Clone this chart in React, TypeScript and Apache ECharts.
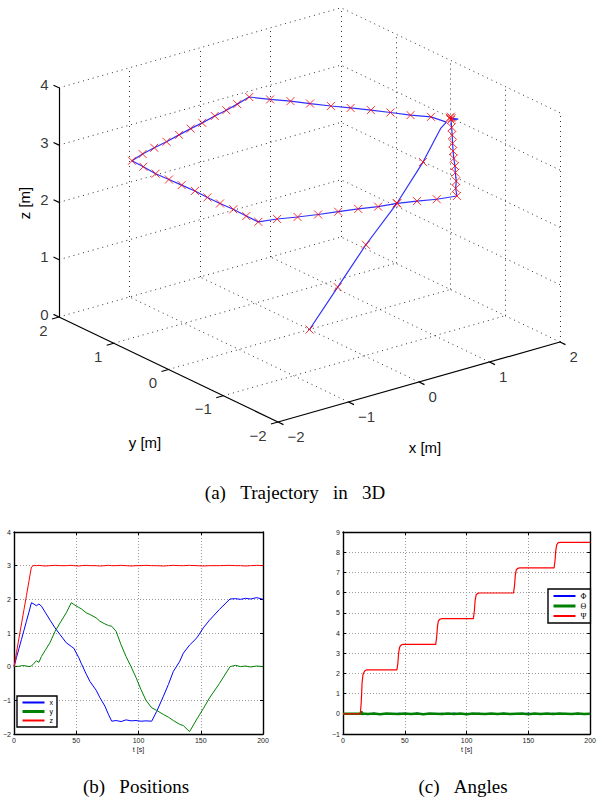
import React, { useEffect, useRef } from "react";
import * as echarts from "echarts";

// ---------- 3D trajectory (metres), one entry per logged sample ----------
const trajX = [0, 0.4, 0.8, 1.24, 1.61, 1.86, 1.88, 1.84, 1.69, 1.56, 1.43, 1.29, 1.15, 1.01, 0.88, 0.73, 0.59, 0.35, 0.14, -0.07, -0.31, -0.52, -0.74, -0.98, -1.2, -1.42, -1.64, -1.65, -1.67, -1.66, -1.65, -1.64, -1.65, -1.65, -1.64, -1.65, -1.65, -1.43, -1.21, -0.98, -0.75, -0.52, -0.3, -0.07, 0.15, 0.36, 0.6, 0.73, 0.87, 1.02, 1.14, 1.27, 1.4, 1.54, 1.69, 1.83, 1.96, 2.04, 1.99, 2.02, 2.0];
const trajY = [0, 0, 0, 0, 0, 0, -0.08, 0.15, 0.33, 0.53, 0.72, 0.91, 1.09, 1.29, 1.48, 1.66, 1.86, 1.77, 1.7, 1.64, 1.56, 1.5, 1.43, 1.35, 1.29, 1.22, 1.13, 0.91, 0.66, 0.43, 0.21, -0.02, -0.26, -0.49, -0.72, -0.97, -1.19, -1.25, -1.34, -1.42, -1.49, -1.56, -1.64, -1.69, -1.77, -1.86, -1.92, -1.73, -1.56, -1.35, -1.19, -1.0, -0.82, -0.63, -0.43, -0.24, -0.06, -0.09, 0.0, 0.02, -0.02];
const trajZ = [0, 0.6, 1.2, 1.77, 2.36, 2.86, 3, 3, 3, 3, 3, 3, 3, 3, 3, 3, 3, 3, 3, 3, 3, 3, 3, 3, 3, 3, 3, 3, 3, 3, 3, 3, 3, 3, 3, 3, 3, 3, 3, 3, 3, 3, 3, 3, 3, 3, 3, 3, 3, 3, 3, 3, 3, 3, 3, 3, 3, 3, 3, 3, 3];
const trajMark = [1, 1, 1, 1, 1, 0, 0, 1, 1, 1, 1, 1, 1, 1, 1, 1, 1, 1, 1, 1, 1, 1, 1, 1, 1, 1, 1, 1, 1, 1, 1, 1, 1, 1, 1, 1, 1, 1, 1, 1, 1, 1, 1, 1, 1, 1, 1, 1, 1, 1, 1, 1, 1, 1, 1, 1, 1, 0, 1, 1, 1];

const ticks3dX = [-2, -1, 0, 1, 2];
const ticks3dY = [-2, -1, 0, 1, 2];
const ticks3dZ = [0, 1, 2, 3, 4];

// ---------- Positions ----------
const posT = [0, 2, 4, 6, 8, 10, 12, 14, 16, 18, 20, 22, 25, 29, 33, 37, 42, 46, 48, 52, 54, 58, 61, 66, 69, 73, 76, 78.5, 82, 86, 90, 94, 98, 102, 106, 110.6, 114.6, 120, 124, 128, 133, 136, 141, 147, 152, 157, 165, 173.5, 178, 182, 186, 190, 195, 200];
const posX = [0, 0.27, 0.54, 0.81, 1.08, 1.35, 1.62, 1.9, 1.86, 1.81, 1.86, 1.8, 1.62, 1.38, 1.15, 0.95, 0.71, 0.6, 0.55, 0.27, 0.1, -0.22, -0.44, -0.7, -0.92, -1.17, -1.43, -1.62, -1.6, -1.63, -1.58, -1.61, -1.6, -1.62, -1.61, -1.62, -1.33, -0.88, -0.53, -0.14, 0.15, 0.4, 0.64, 0.86, 1.15, 1.38, 1.7, 2.01, 2.02, 2.0, 2.03, 2.01, 2.05, 2.0];
const posY = [0, 0.01, 0.01, 0.03, 0.03, 0.02, 0.0, 0.02, 0.1, 0.17, 0.13, 0.3, 0.48, 0.72, 1.05, 1.3, 1.6, 1.9, 1.85, 1.76, 1.72, 1.6, 1.55, 1.45, 1.35, 1.27, 1.22, 1.2, 1.05, 0.65, 0.3, 0.0, -0.32, -0.68, -1.0, -1.22, -1.3, -1.42, -1.5, -1.6, -1.71, -1.75, -1.93, -1.55, -1.25, -0.93, -0.5, 0.0, 0.04, 0.0, 0.02, -0.01, 0.02, 0.0];
const posZ = [0, 0.42, 0.85, 1.27, 1.69, 2.11, 2.54, 2.96, 3.01, 3.0, 3.01, 3.0, 2.99, 3.0, 3.01, 3.0, 3.0, 3.01, 3.0, 2.99, 3.0, 3.01, 3.0, 3.0, 2.99, 3.0, 3.01, 3.0, 3.0, 3.01, 3.0, 2.99, 3.0, 3.0, 3.01, 3.0, 3.0, 2.99, 3.0, 3.01, 3.0, 3.0, 3.01, 3.0, 2.99, 3.0, 3.0, 3.01, 3.0, 3.0, 2.99, 3.0, 3.01, 3.0];

// ---------- Angles ----------
const psiT = [0, 14, 14.8, 15.4, 16.2, 17.5, 19, 43.6, 44.4, 45, 45.8, 47, 48.5, 75, 75.8, 76.4, 77.2, 78.4, 80, 105.5, 106.3, 106.9, 107.7, 108.9, 110.5, 138, 138.8, 139.4, 140.2, 141.4, 143, 170.8, 171.6, 172.2, 173, 174.2, 175.8, 200];
const psiV = [0, 0, 0.6, 1.5, 1.95, 2.12, 2.17, 2.17, 2.5, 3.0, 3.3, 3.4, 3.44, 3.44, 3.8, 4.3, 4.6, 4.68, 4.71, 4.71, 5.1, 5.6, 5.88, 5.96, 5.98, 5.98, 6.35, 6.85, 7.12, 7.2, 7.22, 7.22, 7.6, 8.1, 8.38, 8.47, 8.49, 8.49];
const angT = [0, 14, 15, 15.5, 16, 20, 25, 30, 35, 40, 45, 50, 55, 60, 65, 70, 75, 80, 85, 90, 95, 100, 105, 110, 115, 120, 125, 130, 135, 140, 145, 150, 155, 160, 165, 170, 175, 180, 185, 190, 195, 200];
const phiV = [0, 0, 0.06, -0.04, 0.03, -0.02, 0.03, -0.03, 0.02, -0.04, 0.03, 0.01, -0.03, 0.04, -0.02, 0.02, -0.03, 0.03, -0.02, 0.04, -0.03, 0.02, -0.02, 0.03, -0.04, 0.02, -0.02, 0.03, -0.03, 0.02, -0.02, 0.04, -0.03, 0.02, -0.02, 0.03, -0.03, 0.02, -0.02, 0.03, -0.02, 0.01];
const thetaV = [0, 0, 0.12, -0.05, 0.02, -0.01, 0.01, -0.02, 0.01, 0.0, -0.01, 0.02, -0.01, 0.01, -0.02, 0.01, 0.0, -0.01, 0.02, -0.01, 0.01, -0.02, 0.01, 0.0, -0.01, 0.02, -0.01, 0.01, -0.01, 0.0, 0.01, -0.02, 0.01, -0.01, 0.02, -0.01, 0.01, 0.0, -0.01, 0.01, -0.01, 0.0];

// ---------- styling / layout ----------
const SANS = "Liberation Sans";
const SERIF = "Liberation Serif";
const fmt = (v: number) => (v < 0 ? "\u2212" + Math.abs(v) : String(v));
const GAP = "\u00A0\u00A0\u00A0";

// oblique view: screen-u (right) and screen-v (up) per data unit
const VIEW = { ux: 70.5, uy: -54.75, vx: 20, vy: 26.25, vz: 57.3 };
const proj = (x: number, y: number, z: number) => [VIEW.ux * x + VIEW.uy * y, VIEW.vx * x + VIEW.vy * y + VIEW.vz * z];

function buildOption(): any {
  const xMin = ticks3dX[0], xMax = ticks3dX[ticks3dX.length - 1];
  const yMin = ticks3dY[0], yMax = ticks3dY[ticks3dY.length - 1];
  const zMin = ticks3dZ[0], zMax = ticks3dZ[ticks3dZ.length - 1];
  const seg = (a: number[], b: number[]) => ({ coords: [proj(a[0], a[1], a[2]), proj(b[0], b[1], b[2])] });

  const gridSegs: any[] = [];
  ticks3dX.forEach((t) => {
    if (t !== xMin) {
      gridSegs.push(seg([t, yMax, zMin], [t, yMax, zMax]));
      gridSegs.push(seg([t, yMin, zMin], [t, yMax, zMin]));
    }
  });
  ticks3dY.forEach((t) => {
    if (t !== yMax) gridSegs.push(seg([xMax, t, zMin], [xMax, t, zMax]));
    if (t !== yMin) gridSegs.push(seg([xMin, t, zMin], [xMax, t, zMin]));
  });
  ticks3dZ.forEach((t) => {
    if (t !== zMin) {
      gridSegs.push(seg([xMin, yMax, t], [xMax, yMax, t]));
      gridSegs.push(seg([xMax, yMin, t], [xMax, yMax, t]));
    }
  });

  const TL = 0.1;
  const axisSegs: any[] = [
    seg([xMin, yMax, zMin], [xMin, yMax, zMax]),
    seg([xMin, yMin, zMin], [xMin, yMax, zMin]),
    seg([xMin, yMin, zMin], [xMax, yMin, zMin]),
  ];
  ticks3dZ.forEach((t) => axisSegs.push(seg([xMin, yMax, t], [xMin, yMax + TL, t])));
  ticks3dY.forEach((t) => axisSegs.push(seg([xMin, t, zMin], [xMin - TL, t, zMin])));
  ticks3dX.forEach((t) => axisSegs.push(seg([t, yMin, zMin], [t, yMin - TL, zMin])));

  const tickLabelData: any[] = [
    ...ticks3dZ.map((t) => ({ value: proj(xMin, yMax, t), name: fmt(t), label: { position: "left", distance: 10, offset: [0, -3] } })),
    ...ticks3dY.map((t) => ({ value: proj(xMin, t, zMin), name: fmt(t), label: { position: "left", distance: 11, offset: [0, 13] } })),
    ...ticks3dX.map((t) => ({ value: proj(t, yMin, zMin), name: fmt(t), label: { position: "right", distance: 9, offset: [0, 14] } })),
  ];

  const trajLine = trajX.map((x, i) => proj(x, trajY[i], trajZ[i]));
  const trajMarks = trajLine.filter((_, i) => trajMark[i] === 1);

  const smallLabel = { fontSize: 7, color: "#222", fontFamily: SANS, margin: 3, formatter: (v: number) => fmt(v) };
  const boxLine = { show: true, onZero: false, lineStyle: { color: "#000", width: 1.4 } };
  const inTick = { show: true, inside: true, length: 3, lineStyle: { color: "#000", width: 1 } };
  const dotted = { show: true, lineStyle: { color: "#9a9a9a", width: 1, type: [1, 2] } };

  const bottomX = (gi: number) => ({
    gridIndex: gi, type: "value", min: 0, max: 200, interval: 50,
    axisLine: boxLine, axisTick: inTick, axisLabel: smallLabel, splitLine: dotted,
    name: "t [s]", nameLocation: "middle", nameGap: 12,
    nameTextStyle: { fontSize: 7, color: "#222", fontFamily: SANS },
  });
  const topX = (gi: number) => ({
    gridIndex: gi, type: "value", position: "top", min: 0, max: 200, interval: 50,
    axisLine: boxLine, axisTick: inTick, axisLabel: { show: false }, splitLine: { show: false },
  });
  const leftY = (gi: number, min: number, max: number) => ({
    gridIndex: gi, type: "value", min, max, interval: 1,
    axisLine: boxLine, axisTick: inTick, axisLabel: smallLabel, splitLine: dotted,
  });
  const rightY = (gi: number, min: number, max: number) => ({
    gridIndex: gi, type: "value", position: "right", min, max, interval: 1,
    axisLine: boxLine, axisTick: inTick, axisLabel: { show: false }, splitLine: { show: false },
  });

  const lineS = (name: string, xi: number, yi: number, xs: number[], ys: number[], color: string, width: number, z = 2) => ({
    name, type: "line", xAxisIndex: xi, yAxisIndex: yi, symbol: "none", showSymbol: false, z,
    data: xs.map((t, i) => [t, ys[i]]),
    lineStyle: { color, width }, itemStyle: { color },
  });

  const legendBase = {
    orient: "vertical", selectedMode: false, itemWidth: 22, itemHeight: 6, itemGap: 2,
    padding: [3, 4, 3, 4], borderColor: "#000", borderWidth: 1.4, backgroundColor: "#fff",
    itemStyle: { opacity: 0, borderWidth: 0 },
  };

  const txt = (x: number, y: number, text: string, size: number, family: string, rot = 0) => ({
    type: "text", x, y, rotation: rot,
    style: { text, fontSize: size, fontFamily: family, fill: "#000", align: "center", verticalAlign: "middle" },
  });

  return {
    animation: false,
    backgroundColor: "#fff",
    grid: [
      { left: 0, top: 0, width: 599, height: 500 },
      { left: 14, top: 532, width: 249, height: 202 },
      { left: 343, top: 532, width: 249, height: 202 },
    ],
    xAxis: [
      { gridIndex: 0, type: "value", min: -309.5, max: 289.5, show: false },
      bottomX(1), topX(1), bottomX(2), topX(2),
    ],
    yAxis: [
      { gridIndex: 0, type: "value", min: -170.5, max: 329.5, show: false },
      leftY(1, -2, 4), rightY(1, -2, 4), leftY(2, -1, 9), rightY(2, -1, 9),
    ],
    legend: [
      {
        ...legendBase, left: 17, top: 696,
        textStyle: { fontSize: 7, fontFamily: SANS, color: "#000" },
        data: [{ name: "x" }, { name: "y", lineStyle: { width: 3 } }, { name: "z" }],
      },
      {
        ...legendBase, left: 548, top: 589,
        textStyle: { fontSize: 8, fontFamily: SERIF, color: "#000" },
        data: [{ name: "Φ" }, { name: "Θ", lineStyle: { width: 3 } }, { name: "Ψ" }],
      },
    ],
    graphic: [
      txt(24, 203, "z [m]", 15, SANS, Math.PI / 2),
      txt(145, 442, "y [m]", 15, SANS),
      txt(425, 447, "x [m]", 15, SANS),
      txt(295, 492, "(a)" + GAP + "Trajectory" + GAP + "in" + GAP + "3D", 19, SERIF),
      txt(136, 786, "(b)" + GAP + "Positions", 19, SERIF),
      txt(463, 786, "(c)" + GAP + "Angles", 19, SERIF),
    ],
    series: [
      {
        name: "grid3d", type: "lines", coordinateSystem: "cartesian2d", xAxisIndex: 0, yAxisIndex: 0, silent: true, z: 1,
        data: gridSegs, lineStyle: { color: "#333", width: 1, type: [1, 4], opacity: 1 },
      },
      {
        name: "axes3d", type: "lines", coordinateSystem: "cartesian2d", xAxisIndex: 0, yAxisIndex: 0, silent: true, z: 2,
        data: axisSegs, lineStyle: { color: "#000", width: 1.2, opacity: 1 },
      },
      {
        name: "ticklabels3d", type: "scatter", xAxisIndex: 0, yAxisIndex: 0, silent: true, symbolSize: 1,
        itemStyle: { color: "rgba(0,0,0,0)" }, data: tickLabelData,
        label: { show: true, formatter: "{b}", fontSize: 15, fontFamily: SANS, color: "#000" },
      },
      {
        name: "trajectory", type: "line", xAxisIndex: 0, yAxisIndex: 0, symbol: "none", showSymbol: false, z: 3,
        data: trajLine, lineStyle: { color: "#3030ff", width: 1.2 },
      },
      {
        name: "samples", type: "scatter", xAxisIndex: 0, yAxisIndex: 0, z: 4,
        symbol: "path://M0 0L10 10M10 0L0 10", symbolSize: 8, data: trajMarks,
        itemStyle: { color: "rgba(0,0,0,0)", borderColor: "#ff0000", borderWidth: 1 },
      },
      lineS("x", 1, 1, posT, posX, "#0000ff", 1),
      lineS("y", 1, 1, posT, posY, "#008000", 1),
      lineS("z", 1, 1, posT, posZ, "#ff0000", 1),
      lineS("Φ", 3, 3, angT, phiV, "#0000ff", 1),
      lineS("Θ", 3, 3, angT, thetaV, "#008000", 2.5),
      lineS("Ψ", 3, 3, psiT, psiV, "#ff0000", 1.2, 3),
    ],
  };
}

export default function App() {
  const ref = useRef<HTMLDivElement>(null);
  useEffect(() => {
    if (!ref.current) return;
    const chart = echarts.init(ref.current, undefined, { renderer: "svg" });
    chart.setOption(buildOption());
    return () => chart.dispose();
  }, []);
  return (
    <div
      ref={ref}
      style={{ position: "fixed", left: 0, top: 0, width: 599, height: 801, background: "#fff" }}
    />
  );
}
